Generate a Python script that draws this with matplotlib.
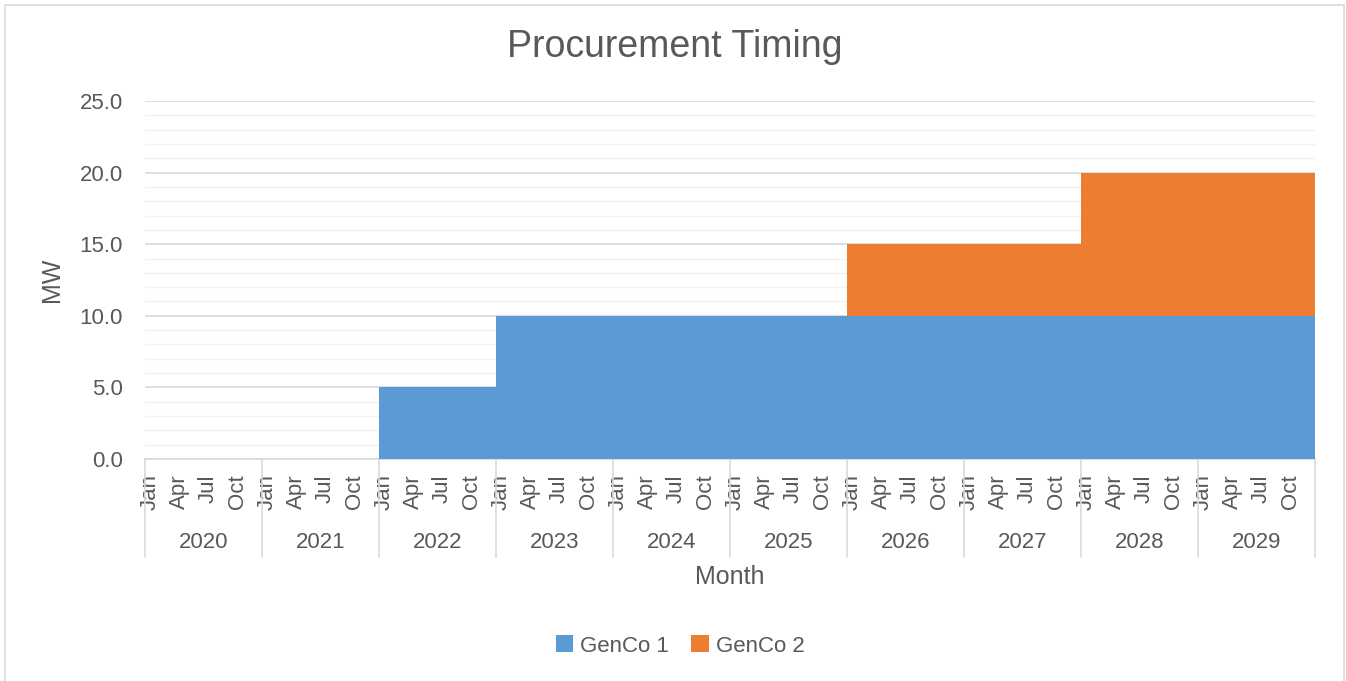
import matplotlib.pyplot as plt
import numpy as np
from matplotlib.patches import Rectangle

plt.rcParams['font.family'] = ['Liberation Sans', 'DejaVu Sans']

years = [2020, 2021, 2022, 2023, 2024, 2025, 2026, 2027, 2028, 2029]
month_labels = ['Jan', 'Apr', 'Jul', 'Oct']
# MW per year (same value every month of that year)
genco1 = [0, 0, 5, 10, 10, 10, 10, 10, 10, 10]
genco2 = [0, 0, 0, 0, 0, 0, 5, 5, 10, 10]

text_col = '#595959'
blue = '#5B9BD5'
orange = '#ED7D31'

g1 = np.repeat(genco1, 12).astype(float)
g2 = np.repeat(genco2, 12).astype(float)
n = len(g1)
x = np.arange(n + 1)
g1 = np.append(g1, g1[-1])
g2 = np.append(g2, g2[-1])

fig = plt.figure(figsize=(13.46, 6.81), dpi=100)
fig.patches.append(Rectangle((5 / 1346, -0.01), 1339 / 1346, 676 / 681 + 0.01,
                             transform=fig.transFigure, fill=False,
                             edgecolor='#D9D9D9', linewidth=1.2))
ax = fig.add_axes([145 / 1346, 1 - 459 / 681, 1170 / 1346, 358 / 681])

ax.fill_between(x, 0, g1, step='post', color=blue, linewidth=0, label='GenCo 1', zorder=3)
ax.fill_between(x, g1, g1 + g2, step='post', color=orange, linewidth=0, label='GenCo 2', zorder=3)

ax.set_xlim(0, n)
ax.set_ylim(0, 25)
ax.set_yticks(np.arange(0, 26, 5))
ax.set_yticks(np.arange(0, 26, 1), minor=True)
ax.set_yticklabels([f'{v:.1f}' for v in np.arange(0, 26, 5)])
ax.grid(axis='y', which='major', color='#D9D9D9', linewidth=1.2, zorder=0)
ax.grid(axis='y', which='minor', color='#F2F2F2', linewidth=1.0, zorder=0)
ax.set_axisbelow(True)
ax.tick_params(axis='y', which='both', length=0, pad=16, labelsize=16, labelcolor=text_col)

# month ticks
pos = []
labs = []
for i, yr in enumerate(years):
    for k, m in enumerate(month_labels):
        pos.append(i * 12 + k * 3 + 0.5)
        labs.append(m)
ax.set_xticks(pos)
ax.set_xticklabels(labs, rotation=90, va='top', ha='center')
ax.tick_params(axis='x', length=0, pad=11, labelsize=16, labelcolor=text_col)

for s in ['top', 'right', 'left']:
    ax.spines[s].set_visible(False)
ax.spines['bottom'].set_color('#D9D9D9')
ax.spines['bottom'].set_linewidth(1.2)

# year level of the category axis
trans = ax.get_xaxis_transform()
y_sep = -(557 - 459) / 358
for i in range(len(years) + 1):
    ax.plot([i * 12, i * 12], [0, y_sep], transform=trans, color='#D9D9D9',
            linewidth=1.2, clip_on=False)
for i, yr in enumerate(years):
    ax.text(i * 12 + 6, -(542 - 459) / 358, str(yr), transform=trans,
            ha='center', va='center', fontsize=16, color=text_col)

ax.text(0.5, -(577 - 459) / 358, 'Month', transform=ax.transAxes,
        ha='center', va='center', fontsize=18, color=text_col)
fig.text(52 / 1346, 1 - 280 / 681, 'MW', rotation=90, ha='center', va='center',
         fontsize=18, color=text_col)
fig.text(675 / 1346, 1 - 47 / 681, 'Procurement Timing', ha='center', va='center',
         fontsize=27, color=text_col)

leg = fig.legend(loc='center', bbox_to_anchor=(680 / 1346, 1 - 646 / 681), ncol=2,
                 frameon=False, fontsize=16, handlelength=0.8, handleheight=0.8,
                 handletextpad=0.3, columnspacing=1.0)
for t in leg.get_texts():
    t.set_color(text_col)

fig.savefig('out.png', dpi=100)
